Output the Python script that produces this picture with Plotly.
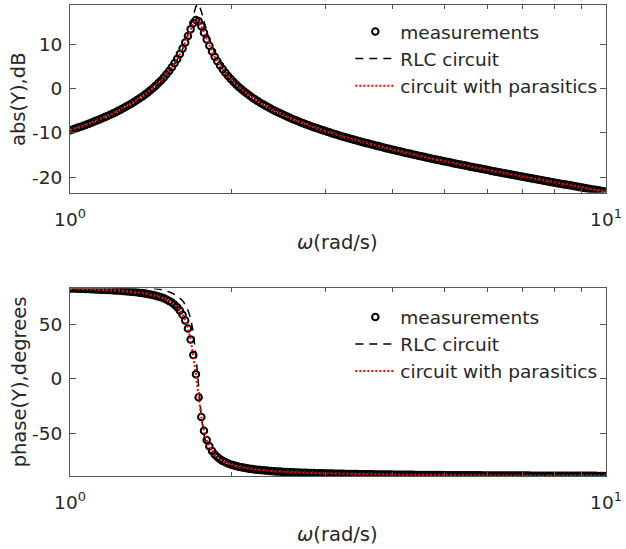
import plotly.graph_objects as go

# ---------------- data ----------------
omega = [1.0000, 1.0116, 1.0233, 1.0351, 1.0471, 1.0593, 1.0715, 1.0839, 1.0965, 1.1092,
         1.1220, 1.1350, 1.1482, 1.1614, 1.1749, 1.1885, 1.2023, 1.2162, 1.2303, 1.2445,
         1.2589, 1.2735, 1.2882, 1.3032, 1.3183, 1.3335, 1.3490, 1.3646, 1.3804, 1.3964,
         1.4125, 1.4289, 1.4454, 1.4622, 1.4791, 1.4962, 1.5136, 1.5311, 1.5488, 1.5668,
         1.5849, 1.6032, 1.6218, 1.6406, 1.6596, 1.6788, 1.6982, 1.7179, 1.7378, 1.7579,
         1.7783, 1.7989, 1.8197, 1.8408, 1.8621, 1.8836, 1.9055, 1.9275, 1.9498, 1.9724,
         1.9953, 2.0184, 2.0417, 2.0654, 2.0893, 2.1135, 2.1380, 2.1627, 2.1878, 2.2131,
         2.2387, 2.2646, 2.2909, 2.3174, 2.3442, 2.3714, 2.3988, 2.4266, 2.4547, 2.4831,
         2.5119, 2.5410, 2.5704, 2.6002, 2.6303, 2.6607, 2.6915, 2.7227, 2.7542, 2.7861,
         2.8184, 2.8510, 2.8840, 2.9174, 2.9512, 2.9854, 3.0200, 3.0549, 3.0903, 3.1261,
         3.1623, 3.1989, 3.2359, 3.2734, 3.3113, 3.3497, 3.3884, 3.4277, 3.4674, 3.5075,
         3.5481, 3.5892, 3.6308, 3.6728, 3.7154, 3.7584, 3.8019, 3.8459, 3.8905, 3.9355,
         3.9811, 4.0272, 4.0738, 4.1210, 4.1687, 4.2170, 4.2658, 4.3152, 4.3652, 4.4157,
         4.4668, 4.5186, 4.5709, 4.6238, 4.6774, 4.7315, 4.7863, 4.8417, 4.8978, 4.9545,
         5.0119, 5.0699, 5.1286, 5.1880, 5.2481, 5.3088, 5.3703, 5.4325, 5.4954, 5.5590,
         5.6234, 5.6885, 5.7544, 5.8210, 5.8884, 5.9566, 6.0256, 6.0954, 6.1660, 6.2373,
         6.3096, 6.3826, 6.4565, 6.5313, 6.6069, 6.6834, 6.7608, 6.8391, 6.9183, 6.9984,
         7.0795, 7.1614, 7.2444, 7.3282, 7.4131, 7.4989, 7.5858, 7.6736, 7.7625, 7.8524,
         7.9433, 8.0353, 8.1283, 8.2224, 8.3176, 8.4140, 8.5114, 8.6099, 8.7096, 8.8105,
         8.9125, 9.0157, 9.1201, 9.2257, 9.3325, 9.4406, 9.5499, 9.6605, 9.7724, 9.8855,
         10.000]

meas_mag_db = [-9.41, -9.21, -9.00, -8.79, -8.58, -8.36, -8.14, -7.91, -7.68, -7.44,
               -7.20, -6.95, -6.69, -6.43, -6.16, -5.89, -5.60, -5.31, -5.01, -4.70,
               -4.38, -4.05, -3.70, -3.35, -2.98, -2.59, -2.19, -1.77, -1.33, -0.87,
               -0.39, 0.13, 0.67, 1.24, 1.85, 2.51, 3.22, 3.98, 4.80, 5.71,
               6.70, 7.80, 9.02, 10.38, 11.86, 13.39, 14.74, 15.47, 15.19, 14.06,
               12.57, 11.05, 9.64, 8.35, 7.20, 6.16, 5.21, 4.35, 3.56, 2.83,
               2.15, 1.52, 0.93, 0.37, -0.15, -0.65, -1.12, -1.57, -2.00, -2.41,
               -2.80, -3.18, -3.54, -3.89, -4.22, -4.55, -4.87, -5.17, -5.47, -5.75,
               -6.03, -6.31, -6.57, -6.83, -7.08, -7.33, -7.57, -7.80, -8.03, -8.26,
               -8.48, -8.69, -8.91, -9.11, -9.32, -9.52, -9.72, -9.91, -10.10, -10.29,
               -10.48, -10.66, -10.83, -11.01, -11.18, -11.35, -11.53, -11.69, -11.86, -12.02,
               -12.19, -12.35, -12.51, -12.66, -12.82, -12.97, -13.13, -13.28, -13.43, -13.57,
               -13.72, -13.87, -14.01, -14.15, -14.30, -14.44, -14.58, -14.71, -14.85, -14.99,
               -15.12, -15.26, -15.39, -15.52, -15.66, -15.79, -15.92, -16.05, -16.17, -16.30,
               -16.43, -16.56, -16.68, -16.81, -16.93, -17.06, -17.18, -17.30, -17.42, -17.54,
               -17.67, -17.79, -17.91, -18.03, -18.14, -18.26, -18.38, -18.50, -18.62, -18.73,
               -18.85, -18.96, -19.08, -19.20, -19.31, -19.42, -19.54, -19.65, -19.77, -19.88,
               -19.99, -20.10, -20.22, -20.33, -20.44, -20.55, -20.66, -20.77, -20.88, -20.99,
               -21.10, -21.21, -21.32, -21.43, -21.54, -21.65, -21.76, -21.87, -21.98, -22.08,
               -22.19, -22.30, -22.41, -22.51, -22.62, -22.73, -22.83, -22.94, -23.05, -23.15,
               -23.26]

meas_phase_deg = [83.50, 83.43, 83.35, 83.27, 83.18, 83.09, 83.00, 82.90, 82.80, 82.70,
                  82.59, 82.47, 82.35, 82.23, 82.09, 81.95, 81.80, 81.64, 81.47, 81.29,
                  81.10, 80.89, 80.66, 80.42, 80.15, 79.86, 79.54, 79.20, 78.81, 78.38,
                  77.91, 77.37, 76.77, 76.07, 75.27, 74.35, 73.26, 71.97, 70.41, 68.52,
                  66.16, 63.14, 59.23, 53.86, 46.55, 36.29, 22.17, 4.38, -16.96, -35.03,
                  -47.68, -56.25, -62.14, -66.41, -69.59, -72.03, -73.99, -75.55, -76.85, -77.94,
                  -78.87, -79.67, -80.36, -80.97, -81.50, -81.98, -82.41, -82.79, -83.14, -83.46,
                  -83.75, -84.02, -84.27, -84.49, -84.70, -84.90, -85.08, -85.25, -85.41, -85.56,
                  -85.70, -85.83, -85.96, -86.08, -86.19, -86.30, -86.40, -86.50, -86.59, -86.68,
                  -86.76, -86.84, -86.91, -86.99, -87.06, -87.13, -87.19, -87.25, -87.31, -87.37,
                  -87.43, -87.48, -87.53, -87.58, -87.63, -87.67, -87.72, -87.76, -87.81, -87.85,
                  -87.89, -87.93, -87.96, -88.00, -88.04, -88.07, -88.10, -88.14, -88.17, -88.20,
                  -88.23, -88.26, -88.29, -88.32, -88.34, -88.37, -88.40, -88.42, -88.45, -88.47,
                  -88.49, -88.52, -88.54, -88.56, -88.58, -88.60, -88.62, -88.65, -88.67, -88.68,
                  -88.70, -88.72, -88.74, -88.76, -88.78, -88.79, -88.81, -88.83, -88.84, -88.86,
                  -88.88, -88.89, -88.91, -88.92, -88.94, -88.95, -88.96, -88.98, -88.99, -89.01,
                  -89.02, -89.03, -89.04, -89.06, -89.07, -89.08, -89.09, -89.11, -89.12, -89.13,
                  -89.14, -89.15, -89.16, -89.17, -89.18, -89.19, -89.20, -89.21, -89.22, -89.23,
                  -89.24, -89.25, -89.26, -89.27, -89.28, -89.29, -89.30, -89.31, -89.32, -89.32,
                  -89.33, -89.34, -89.35, -89.36, -89.36, -89.37, -89.38, -89.39, -89.39, -89.40,
                  -89.41]

# the "circuit with parasitics" fit lies on top of the measurements everywhere
parasitic_mag_db = list(meas_mag_db)
parasitic_phase_deg = list(meas_phase_deg)

rlc_omega = [1.0000, 1.1220, 1.2589, 1.3335, 1.4125, 1.4454, 1.4791, 1.5136, 1.5488, 1.5849,
             1.6032, 1.6218, 1.6406, 1.6596, 1.6788, 1.6982, 1.7179, 1.7378, 1.7579, 1.7783,
             1.7989, 1.8197, 1.8408, 1.8621, 1.9055, 1.9498, 1.9953, 2.0893, 2.2387, 2.5119,
             3.1623, 3.9811, 5.0119, 6.3096, 7.9433, 10.000]
rlc_mag_db = [-9.55, -7.35, -4.56, -2.79, -0.61, 0.43, 1.61, 2.96, 4.55, 6.47,
              7.60, 8.89, 10.38, 12.12, 14.15, 16.46, 18.56, 19.07, 17.44, 15.11,
              12.94, 11.08, 9.49, 8.13, 5.87, 4.06, 2.55, 0.12, -2.62, -5.93,
              -10.43, -13.70, -16.42, -18.84, -21.10, -23.26]
rlc_phase_deg = [87.90, 87.29, 86.27, 85.42, 84.11, 83.36, 82.39, 81.10, 79.30, 76.61,
                 74.70, 72.18, 68.69, 63.65, 55.88, 43.00, 21.18, -8.90, -34.99, -51.23,
                 -60.80, -66.79, -70.84, -73.72, -77.51, -79.89, -81.52, -83.60, -85.33, -86.81,
                 -88.10, -88.70, -89.05, -89.28, -89.44, -89.57]

series_names = ["measurements", "RLC circuit", "circuit with parasitics"]
x_tick_vals = [1, 10]
x_tick_text = ["10<sup>0</sup>", "10<sup>1</sup>"]
x_minor_vals = [2, 3, 4, 5, 6, 7, 8, 9]
mag_ticks = [-20, -10, 0, 10]
mag_tick_text = ["-20", "-10", "0", "10"]
phase_ticks = [-50, 0, 50]
phase_tick_text = ["-50", "0", "50"]

assert len(omega) == len(meas_mag_db) == len(meas_phase_deg)
assert len(rlc_omega) == len(rlc_mag_db) == len(rlc_phase_deg)

# ---------------- styling ----------------
FONT = "DejaVu Sans"
TXT = "#262626"
AX = "#555555"

fig = go.Figure()

marker_style = dict(symbol="circle-open", size=6.5, color="black", line=dict(width=2, color="black"))
rlc_style = dict(color="black", width=1.5, dash="8px,6px")
par_style = dict(color="#ff0000", width=2, dash="2px,2px")

for (xa, ya, leg, meas_y, rlc_y, par_y) in [
        ("x", "y", "legend", meas_mag_db, rlc_mag_db, parasitic_mag_db),
        ("x2", "y2", "legend2", meas_phase_deg, rlc_phase_deg, parasitic_phase_deg)]:
    fig.add_trace(go.Scatter(x=omega, y=meas_y, mode="markers", marker=marker_style,
                             name=series_names[0], xaxis=xa, yaxis=ya, legend=leg))
    fig.add_trace(go.Scatter(x=rlc_omega, y=rlc_y, mode="lines", line=rlc_style,
                             name=series_names[1], xaxis=xa, yaxis=ya, legend=leg))
    fig.add_trace(go.Scatter(x=omega, y=par_y, mode="lines", line=par_style,
                             name=series_names[2], xaxis=xa, yaxis=ya, legend=leg))

xcommon = dict(type="log", range=[0, 1], tickmode="array", tickvals=x_tick_vals, ticktext=x_tick_text,
               ticks="inside", ticklen=6, tickwidth=1, tickcolor=AX,
               minor=dict(tickvals=x_minor_vals, ticks="inside", ticklen=4, tickcolor=AX, showgrid=False),
               showline=True, linecolor=AX, linewidth=1, mirror="allticks",
               showgrid=False, zeroline=False, ticklabelstandoff=10, ticklabeloverflow="allow",
               tickfont=dict(family=FONT, size=18.5, color=TXT))
ycommon = dict(ticks="inside", ticklen=6, tickwidth=1, tickcolor=AX, tickmode="array",
               showline=True, linecolor=AX, linewidth=1, mirror="allticks",
               showgrid=False, zeroline=False, ticklabelstandoff=3,
               tickfont=dict(family=FONT, size=18.5, color=TXT))

fig.update_layout(
    width=626, height=549,
    margin=dict(l=70, r=13, t=4, b=73),
    paper_bgcolor="white", plot_bgcolor="white",
    showlegend=True,
    xaxis=dict(domain=[0, 1], anchor="y", **xcommon),
    yaxis=dict(domain=[0.6017, 1.0], anchor="x", range=[-23.45, 18.85],
               tickvals=mag_ticks, ticktext=mag_tick_text, **ycommon),
    xaxis2=dict(domain=[0, 1], anchor="y2", **xcommon),
    yaxis2=dict(domain=[0.0, 0.3983], anchor="x2", range=[-89.5, 83.5],
                tickvals=phase_ticks, ticktext=phase_tick_text, **ycommon),
    legend=dict(x=0.523, y=0.983, xanchor="left", yanchor="top", bgcolor="rgba(0,0,0,0)",
                borderwidth=0, itemwidth=40, tracegroupgap=0,
                font=dict(family=FONT, size=18.5, color=TXT)),
    legend2=dict(x=0.523, y=0.377, xanchor="left", yanchor="top", bgcolor="rgba(0,0,0,0)",
                 borderwidth=0, itemwidth=40, tracegroupgap=0,
                 font=dict(family=FONT, size=18.5, color=TXT)),
)

label_font = dict(family=FONT, size=19.5, color=TXT)
fig.add_annotation(text="abs(Y),dB", xref="paper", yref="paper", x=-0.0948, y=0.8008,
                   xanchor="center", yanchor="middle", textangle=-90, showarrow=False, font=label_font)
fig.add_annotation(text="phase(Y),degrees", xref="paper", yref="paper", x=-0.0948, y=0.1992,
                   xanchor="center", yanchor="middle", textangle=-90, showarrow=False, font=label_font)
fig.add_annotation(text="<i>ω</i>(rad/s)", xref="paper", yref="paper", x=0.499, y=0.4968,
                   xanchor="center", yanchor="middle", showarrow=False, font=label_font)
fig.add_annotation(text="<i>ω</i>(rad/s)", xref="paper", yref="paper", x=0.499, y=-0.125,
                   xanchor="center", yanchor="middle", showarrow=False, font=label_font)

fig.write_html("out.html", config={"displayModeBar": False},
               post_script="document.body.style.margin='0px';")
